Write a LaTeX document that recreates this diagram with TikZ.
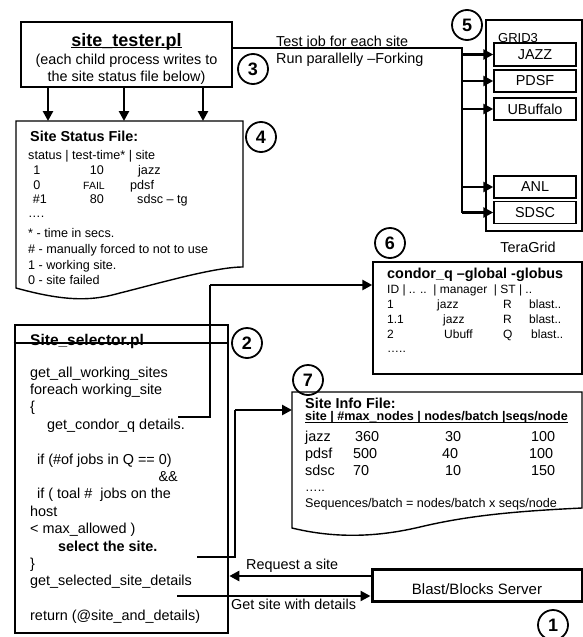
\documentclass[tikz,border=0pt]{standalone}
\usepackage{fontspec}
\setmainfont{Liberation Sans}
\usetikzlibrary{arrows.meta}
\begin{document}
\begin{tikzpicture}[x=1pt,y=-1pt,
  t/.style={inner sep=0pt, anchor=base west, font=\fontsize{14.4}{17}\selectfont},
  tb/.style={inner sep=0pt, anchor=base west, font=\fontsize{14.4}{17}\selectfont\bfseries},
  ts/.style={inner sep=0pt, anchor=base west, font=\fontsize{12.6}{15}\selectfont},
  tsc/.style={inner sep=0pt, anchor=base, font=\fontsize{12.6}{15}\selectfont},
  tc/.style={inner sep=0pt, anchor=base west, font=\fontsize{12}{14}\selectfont},
  thinbox/.style={draw, line width=1.4pt, inner sep=0pt},
  thickbox/.style={draw, line width=2.6pt, inner sep=0pt},
  conn/.style={line width=1.3pt},
  arr/.style={line width=2.6pt, -{Triangle[length=10pt,width=10pt]}},
  num/.style={circle, draw, line width=1.8pt, minimum size=30pt, inner sep=0pt, font=\fontsize{18}{18}\selectfont\bfseries},
  sitebox/.style={thinbox, minimum width=82pt, minimum height=22pt, font=\fontsize{14.4}{17}\selectfont},
]
\useasboundingbox (0,0) rectangle (583,637);

% ---------- site_tester.pl ----------
\node[thinbox, minimum width=211pt, minimum height=65pt] (tester) at (126.5,54.3) {};
\node[inner sep=0pt, anchor=base, font=\fontsize{18}{18}\selectfont\bfseries] (testertitle) at (126.5,46) {site\_tester.pl};
\draw[line width=1.3pt] ([yshift=-1.5pt]testertitle.base west) -- ([yshift=-1.5pt]testertitle.base east);
\node[inner sep=0pt, anchor=base, font=\fontsize{14.4}{17}\selectfont] (tester2) at (126.5,64) {(each child process writes to};
\node[inner sep=0pt, anchor=base, font=\fontsize{14.4}{17}\selectfont] (tester3) at (126.5,81) {the site status file below)};

% ---------- Site Status File ----------
\draw[line width=1.4pt] (16,121) coordinate (sf) -- (243,121) -- (243,267)
  .. controls (215,267) and (160,283) .. (120,293)
  .. controls (95,300) and (70,303) .. (16,288) -- cycle;
\coordinate (a1) at (48,121);
\coordinate (a2) at (124,121);
\coordinate (a3) at (203,121);
\draw[arr] (a1 |- tester.south) -- (a1);
\draw[arr] (a2 |- tester.south) -- (a2);
\draw[arr] (a3 |- tester.south) -- (a3);

\node[tb] (sft) at (30,141) {Site Status File:};
\node[ts] (sf0) at (28,159.5) {status | test-time* | site};
\node[tsc] (sf1a) at (37,174.5) {1};
\node[tsc] (sf1b) at (97,174.5) {10};
\node[ts] (sf1c) at (138,174.5) {jazz};
\node[tsc] (sf2a) at (37,189.5) {0};
\node[inner sep=0pt, anchor=base, font=\fontsize{10.5}{12}\selectfont] (sf2b) at (94,189.5) {FAIL};
\node[ts] (sf2c) at (130,189.5) {pdsf};
\node[tsc] (sf3a) at (40,203.5) {\#1};
\node[tsc] (sf3b) at (97,203.5) {80};
\node[ts] (sf3c) at (137,203.5) {sdsc – tg};
\node[ts] (sf4) at (28,217) {….};
\node[ts] (sf5) at (28,237.5) {* - time in secs.};
\node[ts] (sf6) at (28,253.5) {\# - manually forced to not to use};
\node[ts] (sf7) at (28,269.5) {1 - working site.};
\node[ts] (sf8) at (28,284.5) {0 - site failed};

% ---------- GRID3 / TeraGrid ----------
\node[thinbox, minimum width=96pt, minimum height=211pt] (grid) at (534,125.5) {};
\node[inner sep=0pt, anchor=base west, font=\fontsize{13}{15}\selectfont] (gridlbl) at (498,42) {GRID3};
\node[sitebox, minimum height=23pt] (jazz) at (535,54.5) {JAZZ};
\node[sitebox] (pdsf) at (535,81) {PDSF};
\node[sitebox] (ubuf) at (535,109) {UBuffalo};
\node[sitebox] (anl) at (535,187) {ANL};
\node[sitebox] (sdsc) at (535,212.5) {SDSC};
\node[inner sep=0pt, anchor=base, font=\fontsize{14.4}{17}\selectfont] (tera) at (528,252) {TeraGrid};

\coordinate (busTop) at (462,48);
\draw[conn] (tester.east |- busTop) -- (busTop) -- (busTop |- sdsc.west);
\draw[arr] (busTop |- jazz.west) -- (jazz.west);
\draw[arr] (busTop |- pdsf.west) -- (pdsf.west);
\draw[arr] (busTop |- ubuf.west) -- (ubuf.west);
\draw[arr] (busTop |- anl.west) -- (anl.west);
\draw[arr] (busTop |- sdsc.west) -- (sdsc.west);
\node[t] (testjob) at (276,46.5) {Test job for each site};
\node[t] (runpar) at (276,63) {Run parallelly –Forking};

% ---------- condor_q ----------
\node[thinbox, minimum width=209pt, minimum height=112pt] (condor) at (477.5,318) {};
\node[tb] (ct) at (387,278) {condor\_q –global -globus};
\node[tc] (c0) at (387,293.5) {ID | .. ..\ \ | manager\ \ | ST | ..};
\node[tc] (c1a) at (387,308.5) {1};
\node[tc] (c1b) at (437,308.5) {jazz};
\node[tc] (c1c) at (503,308.5) {R};
\node[tc] (c1d) at (529,308.5) {blast..};
\node[tc] (c2a) at (387,323.5) {1.1};
\node[tc] (c2b) at (443,323.5) {jazz};
\node[tc] (c2c) at (503,323.5) {R};
\node[tc] (c2d) at (529,323.5) {blast..};
\node[tc] (c3a) at (387,338.5) {2};
\node[tc] (c3b) at (444,338.5) {Ubuff};
\node[tc] (c3c) at (503,338.5) {Q};
\node[tc] (c3d) at (531,338.5) {blast..};
\node[tc] (c4) at (387,352) {…..};

% ---------- Site_selector.pl ----------
\node[thickbox, minimum width=213pt, minimum height=308pt] (sel) at (121.5,479) {};
\node[inner sep=0pt, anchor=base west, font=\fontsize{15.5}{17}\selectfont\bfseries] (selt) at (30,345) {Site\_selector.pl};
\coordinate (selline) at (0,343);
\draw[line width=2.6pt] (sel.west |- selline) -- (sel.east |- selline);
\node[t] (s1) at (30,377) {get\_all\_working\_sites};
\node[t] (s2) at (30,394.4) {foreach working\_site};
\node[t] (s3) at (30,411.8) {\{};
\node[t] (s4) at (47,429.2) {get\_condor\_q details.};
\node[t] (s5) at (37,464) {if (\#of jobs in Q == 0)};
\node[inner sep=0pt, anchor=base east, font=\fontsize{14.4}{17}\selectfont] (s6) at (178,481.4) {\&\&};
\node[t] (s7) at (37,498.8) {if ( toal \#\ \ jobs on the};
\node[t] (s8) at (30,516.2) {host};
\node[t] (s9) at (30,533.6) {< max\_allowed )};
\node[tb] (s10) at (58,551) {select the site.};
\node[t] (s11) at (30,568.4) {\}};
\node[t] (s12) at (30,585.8) {get\_selected\_site\_details};
\node[t] (s13) at (30,620.6) {return (@site\_and\_details)};

% connector to condor_q
\coordinate (cq1) at (178,417);
\coordinate (cq2) at (210,417);
\coordinate (cq3) at (210,285);
\draw[conn] (cq1) -- (cq2) -- (cq3);
\draw[arr] (cq3) -- (cq3 -| condor.west);

% ---------- Site Info File ----------
\draw[line width=1.4pt] (292,392) coordinate (sif) -- (582,392) -- (582,508)
  .. controls (520,511) and (470,515) .. (420,527)
  .. controls (390,534) and (345,541) .. (292,528) -- cycle;
\coordinate (infoW) at (292,410);
\coordinate (si1) at (197,557);
\coordinate (si2) at (235,557);
\coordinate (si3) at (235,410);
\draw[conn] (si1) -- (si2) -- (si3);
\draw[arr] (si3) -- (infoW);

\node[tb] (sit) at (305,408.5) {Site Info File:};
\node[inner sep=0pt, anchor=base west, font=\fontsize{12.6}{15}\selectfont\bfseries] (sih) at (305,420.5) {site | \#max\_nodes | nodes/batch |seqs/node};
\draw[line width=1pt] ([yshift=-1.5pt]sih.base west) -- ([yshift=-1.5pt]sih.base east);
\node[t] (r1a) at (305,441) {jazz};
\node[t] (r1b) at (355,441) {360};
\node[t] (r1c) at (445,441) {30};
\node[t] (r1d) at (531,441) {100};
\node[t] (r2a) at (305,458) {pdsf};
\node[t] (r2b) at (353,458) {500};
\node[t] (r2c) at (442,458) {40};
\node[t] (r2d) at (529,458) {100};
\node[t] (r3a) at (305,475) {sdsc};
\node[t] (r3b) at (353,475) {70};
\node[t] (r3c) at (445,475) {10};
\node[t] (r3d) at (531,475) {150};
\node[ts] (r4) at (305,491) {…..};
\node[ts] (r5) at (305,507) {Sequences/batch = nodes/batch x seqs/node};

% ---------- Blast/Blocks Server ----------
\node[draw, line width=3pt, inner sep=0pt, minimum width=210pt, minimum height=32pt] (blast) at (477,585) {};
\node[inner sep=0pt, anchor=base, font=\fontsize{15}{17}\selectfont] (blastt) at (477,594) {Blast/Blocks Server};
\coordinate (req) at (0,576);
\coordinate (get) at (177,596);
\draw[arr] (blast.west |- req) -- (sel.east |- req);
\draw[arr, line width=2.2pt] (get) -- (blast.west |- get);
\node[t] (reql) at (246,569.5) {Request a site};
\node[t] (getl) at (231,609.5) {Get site with details};

% ---------- numbered circles ----------
\node[num] (n1) at (553,625) {1};
\node[num] (n2) at (247,343) {2};
\node[num] (n3) at (253,69) {3};
\node[num] (n4) at (261,137) {4};
\node[num] (n5) at (467,25) {5};
\node[num] (n6) at (390,243) {6};
\node[num] (n7) at (308,380) {7};
\end{tikzpicture}
\end{document}
